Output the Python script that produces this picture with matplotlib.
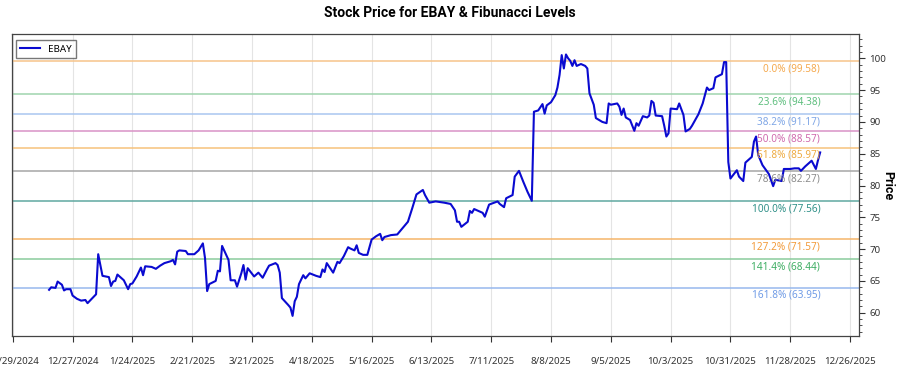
import matplotlib
matplotlib.use("Agg")
import matplotlib.pyplot as plt
import matplotlib.dates as mdates
from matplotlib.ticker import MultipleLocator, FuncFormatter
import pandas as pd
from datetime import datetime

plt.rcParams["font.family"] = ["Noto Sans", "DejaVu Sans"]

# EBAY closing prices
dates = [
    "2024-12-16", "2024-12-17", "2024-12-19", "2024-12-20", "2024-12-22", "2024-12-23",
    "2024-12-24", "2024-12-26", "2024-12-27", "2024-12-29", "2024-12-31", "2025-01-02",
    "2025-01-03", "2025-01-05", "2025-01-07", "2025-01-08", "2025-01-10", "2025-01-13",
    "2025-01-14", "2025-01-15", "2025-01-16", "2025-01-17", "2025-01-20", "2025-01-22",
    "2025-01-23", "2025-01-24", "2025-01-26", "2025-01-28", "2025-01-29", "2025-01-30",
    "2025-02-02", "2025-02-04", "2025-02-06", "2025-02-08", "2025-02-11", "2025-02-12",
    "2025-02-13", "2025-02-14", "2025-02-15", "2025-02-18", "2025-02-19", "2025-02-22",
    "2025-02-24", "2025-02-26", "2025-02-27", "2025-02-28", "2025-03-01", "2025-03-04",
    "2025-03-05", "2025-03-06", "2025-03-07", "2025-03-10", "2025-03-11", "2025-03-13",
    "2025-03-14", "2025-03-16", "2025-03-17", "2025-03-18", "2025-03-19", "2025-03-22",
    "2025-03-24", "2025-03-26", "2025-03-28", "2025-03-29", "2025-04-01", "2025-04-02",
    "2025-04-03", "2025-04-04", "2025-04-07", "2025-04-08", "2025-04-09", "2025-04-10",
    "2025-04-11", "2025-04-12", "2025-04-14", "2025-04-15", "2025-04-17", "2025-04-20",
    "2025-04-22", "2025-04-23", "2025-04-24", "2025-04-25", "2025-04-28", "2025-04-30",
    "2025-05-01", "2025-05-03", "2025-05-05", "2025-05-06", "2025-05-08", "2025-05-09",
    "2025-05-10", "2025-05-12", "2025-05-14", "2025-05-16", "2025-05-18", "2025-05-20",
    "2025-05-21", "2025-05-22", "2025-05-25", "2025-05-28", "2025-05-30", "2025-06-02",
    "2025-06-04", "2025-06-06", "2025-06-09", "2025-06-10", "2025-06-12", "2025-06-15",
    "2025-06-19", "2025-06-22", "2025-06-24", "2025-06-25", "2025-06-26", "2025-06-27",
    "2025-06-30", "2025-07-01", "2025-07-02", "2025-07-03", "2025-07-07", "2025-07-08",
    "2025-07-10", "2025-07-14", "2025-07-15", "2025-07-17", "2025-07-18", "2025-07-21",
    "2025-07-22", "2025-07-24", "2025-07-26", "2025-07-28", "2025-07-30", "2025-07-31",
    "2025-08-02", "2025-08-04", "2025-08-05", "2025-08-06", "2025-08-08", "2025-08-10",
    "2025-08-11", "2025-08-12", "2025-08-13", "2025-08-14", "2025-08-15", "2025-08-16",
    "2025-08-17", "2025-08-18", "2025-08-19", "2025-08-20", "2025-08-22", "2025-08-24",
    "2025-08-25", "2025-08-26", "2025-08-28", "2025-08-29", "2025-09-01", "2025-09-03",
    "2025-09-04", "2025-09-05", "2025-09-08", "2025-09-09", "2025-09-10", "2025-09-11",
    "2025-09-12", "2025-09-14", "2025-09-16", "2025-09-17", "2025-09-18", "2025-09-20",
    "2025-09-22", "2025-09-23", "2025-09-24", "2025-09-25", "2025-09-26", "2025-09-29",
    "2025-09-30", "2025-10-01", "2025-10-02", "2025-10-03", "2025-10-06", "2025-10-07",
    "2025-10-09", "2025-10-10", "2025-10-12", "2025-10-13", "2025-10-14", "2025-10-16",
    "2025-10-18", "2025-10-20", "2025-10-21", "2025-10-23", "2025-10-24", "2025-10-27",
    "2025-10-28", "2025-10-29", "2025-10-30", "2025-10-31", "2025-11-03", "2025-11-04",
    "2025-11-06", "2025-11-07", "2025-11-10", "2025-11-11", "2025-11-12", "2025-11-13",
    "2025-11-15", "2025-11-18", "2025-11-20", "2025-11-21", "2025-11-24", "2025-11-25",
    "2025-11-28", "2025-11-30", "2025-12-02", "2025-12-03", "2025-12-05", "2025-12-08",
    "2025-12-10", "2025-12-11", "2025-12-12",
]
prices = [
    63.6, 64.0, 63.9, 64.9, 64.4, 63.5,
    63.7, 63.7, 62.7, 62.2, 61.9, 62.0,
    61.5, 62.2, 62.9, 69.2, 65.8, 65.6,
    64.2, 64.9, 65.0, 66.0, 65.1, 63.7,
    64.5, 64.6, 65.7, 67.1, 65.9, 67.3,
    67.2, 66.9, 67.4, 67.8, 68.1, 68.3,
    67.6, 69.6, 69.8, 69.7, 69.2, 69.2,
    69.8, 70.9, 68.6, 63.4, 64.5, 65.0,
    66.6, 66.5, 70.5, 68.3, 65.1, 65.1,
    64.1, 66.2, 67.5, 65.2, 67.0, 65.7,
    66.3, 65.5, 66.8, 67.4, 67.8, 67.5,
    66.3, 62.3, 61.2, 60.8, 59.5, 61.8,
    62.5, 64.5, 65.9, 65.4, 66.2, 65.8,
    65.6, 66.8, 66.4, 67.8, 66.3, 68.0,
    67.8, 68.9, 70.3, 70.1, 69.8, 70.6,
    69.4, 69.1, 69.1, 71.5, 72.0, 72.4,
    71.4, 71.9, 72.2, 72.3, 73.1, 74.3,
    76.4, 78.6, 79.3, 78.5, 77.3, 77.5,
    77.3, 77.1, 76.1, 74.3, 74.3, 73.5,
    74.3, 76.0, 75.7, 76.3, 75.7, 75.1,
    77.0, 77.5, 77.1, 76.6, 78.0, 78.5,
    81.4, 82.3, 80.6, 79.0, 77.6, 91.6,
    91.8, 92.8, 91.3, 92.6, 93.1, 94.2,
    95.4, 97.4, 100.5, 98.4, 100.6, 100.0,
    99.6, 98.8, 99.7, 98.8, 99.1, 98.8,
    98.4, 94.5, 92.7, 90.6, 90.0, 89.8,
    92.9, 92.7, 92.9, 92.4, 91.1, 92.1,
    90.7, 90.3, 88.6, 89.8, 89.4, 90.9,
    90.7, 91.0, 93.3, 93.0, 91.0, 90.9,
    89.4, 87.7, 88.2, 92.1, 92.0, 92.9,
    91.1, 88.5, 88.9, 89.4, 90.0, 91.2,
    92.9, 95.4, 95.0, 95.3, 97.0, 97.5,
    99.4, 99.4, 83.7, 81.1, 82.4, 81.4,
    80.7, 83.6, 84.5, 86.9, 87.7, 84.8,
    83.2, 81.8, 79.9, 80.9, 80.7, 82.6,
    82.6, 82.7, 82.7, 82.3, 83.0, 83.9,
    82.6, 84.0, 85.2,
]

fib_pcts = ["0.0%", "23.6%", "38.2%", "50.0%", "61.8%", "78.6%", "100.0%", "127.2%", "141.4%", "161.8%"]
fib_values = [99.58, 94.38, 91.17, 88.57, 85.97, 82.27, 77.56, 71.57, 68.44, 63.95]
fib_line_colors = ["#f7c48a", "#9fd4ae", "#a9c6f0", "#d992c6", "#f6c27c",
                   "#a6a6a6", "#5fa8a0", "#f5b56a", "#8acb9c", "#97b8ee"]
fib_text_colors = ["#f5a94e", "#5fbf7f", "#7fa6e6", "#d06aae", "#eeaa40",
                   "#8c8c8c", "#2f9088", "#f29a3a", "#3fae64", "#6f9be6"]

x = pd.to_datetime(dates)

fig = plt.figure(figsize=(9, 3.75), dpi=100)
ax = fig.add_axes([0.013, 0.104, 0.9415, 0.8045])

ax.plot(x, prices, color="#0a0ad0", lw=1.5, label="EBAY", zorder=3)

for pct, val, lc, tc in zip(fib_pcts, fib_values, fib_line_colors, fib_text_colors):
    ax.axhline(val, color=lc, lw=1.1, zorder=2)
    ax.annotate(f"{pct} ({val:.2f})", xy=(x[-1], val), xytext=(0, -1.5),
                textcoords="offset points", ha="right", va="top",
                fontsize=7.2, color=tc, zorder=4)

ax.set_xlim(datetime(2024, 11, 28, 12), datetime(2025, 12, 30, 5))
ax.set_ylim(56.34, 103.77)

ticks = pd.date_range("2024-11-29", "2025-12-26", freq="28D")
ax.set_xticks(ticks)
ax.xaxis.set_major_formatter(FuncFormatter(
    lambda v, p: (lambda d: f"{d.month}/{d.day}/{d.year}")(mdates.num2date(v))))
ax.grid(axis="x", color="#e4e4e4", lw=0.8)

ax.yaxis.tick_right()
ax.yaxis.set_label_position("right")
ax.yaxis.set_major_locator(MultipleLocator(5))
ax.yaxis.set_minor_locator(MultipleLocator(1))
ax.tick_params(axis="both", labelsize=7, colors="#333333", length=4, width=0.8)
ax.tick_params(axis="y", which="minor", length=2, width=0.6, colors="#333333")
ax.tick_params(axis="x", pad=11)
ax.set_ylabel("Price", fontsize=9, fontweight="bold", family="Roboto",
              rotation=270, labelpad=6)

for s in ax.spines.values():
    s.set_color("#444444")
    s.set_linewidth(0.9)

leg = ax.legend(loc="upper left", fontsize=7, fancybox=False, shadow=False,
                handlelength=2, borderpad=0.45, borderaxespad=0,
                bbox_to_anchor=(0.005, 0.98))
leg.get_frame().set_edgecolor("#555555")
leg.get_frame().set_linewidth(1.0)

fig.suptitle("Stock Price for EBAY & Fibunacci Levels", fontsize=10,
             fontweight="bold", family="Roboto", x=0.5, y=0.985)

fig.savefig("out.png", dpi=100)
